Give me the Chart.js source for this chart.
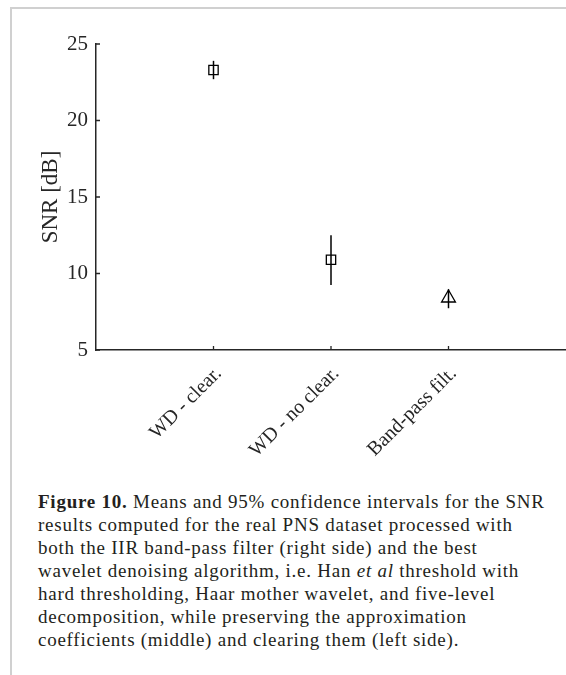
<!DOCTYPE html>
<html>
<head>
<meta charset="utf-8">
<script src="https://cdn.jsdelivr.net/npm/chart.js@4.4.1/dist/chart.umd.min.js"></script>
<style>
  html, body { margin: 0; padding: 0; background: #fff; }
  body { width: 566px; height: 675px; position: relative; overflow: hidden; }
  .frame {
    position: absolute; left: 10px; top: 7px; width: 700px; height: 700px;
    border-left: 2px solid #d0d0d0; border-top: 2px solid #d0d0d0;
  }
  .plot { position: absolute; left: 0; top: 0; width: 566px; height: 470px; }
  .caption {
    position: absolute; left: 38px; top: 490px;
    font-family: "Liberation Serif", Tinos, "Times New Roman", Times, "Noto Serif", "DejaVu Serif", serif;
    font-size: 19px; line-height: 23px; letter-spacing: 0.75px;
    color: #231f20; white-space: nowrap;
  }
</style>
</head>
<body>
<div class="frame"></div>
<div class="plot"><canvas id="snrChart"></canvas></div>
<div class="caption">
  <b>Figure 10.</b> Means and 95% confidence intervals for the SNR<br>
  results computed for the real PNS dataset processed with<br>
  both the IIR band-pass filter (right side) and the best<br>
  wavelet denoising algorithm, i.e. Han <i>et al</i> threshold with<br>
  hard thresholding, Haar mother wavelet, and five-level<br>
  decomposition, while preserving the approximation<br>
  coefficients (middle) and clearing them (left side).
</div>
<script>
// --- data ---
const categories = ["WD - clear.", "WD - no clear.", "Band-pass filt."];
const means = [23.3, 10.9, 8.4];
const ciLow = [22.7, 9.25, 7.73];
const ciHigh = [23.9, 12.5, 8.97];
const markerStyles = ["rect", "rect", "triangle"];
const markerSizes = [6.6, 6.6, 8];
const yTicks = [5, 10, 15, 20, 25];

const AXIS = "#262626";
const FONT = "'Liberation Serif', Tinos, 'Times New Roman', Times, 'Noto Serif', 'DejaVu Serif', serif";

// MATLAB-style ticks pointing into the plot
const inwardTicks = {
  id: "inwardTicks",
  afterDraw(chart) {
    const { ctx, chartArea, scales } = chart;
    ctx.save();
    ctx.strokeStyle = AXIS;
    ctx.lineWidth = 1.3;
    ctx.beginPath();
    scales.y.ticks.forEach((t) => {
      const py = scales.y.getPixelForValue(t.value);
      ctx.moveTo(chartArea.left, py);
      ctx.lineTo(chartArea.left + 4, py);
    });
    scales.x.ticks.forEach((t) => {
      if (!categories[t.value - 1]) return;
      const px = scales.x.getPixelForValue(t.value);
      ctx.moveTo(px, chartArea.bottom);
      ctx.lineTo(px, chartArea.bottom - 4);
    });
    ctx.stroke();
    ctx.restore();
  },
};

const errorBars = categories.map((c, i) => ({
  label: c + " CI",
  data: [
    { x: i + 1, y: ciLow[i] },
    { x: i + 1, y: ciHigh[i] },
  ],
  showLine: true,
  borderColor: "#000",
  borderWidth: 1.5,
  pointRadius: 0,
}));

const markers = {
  label: "mean",
  data: means.map((m, i) => ({ x: i + 1, y: m })),
  pointStyle: markerStyles,
  pointRadius: markerSizes,
  borderColor: "#000",
  borderWidth: 1.3,
  backgroundColor: "rgba(0,0,0,0)",
};

new Chart(document.getElementById("snrChart"), {
  type: "scatter",
  data: { datasets: [markers, ...errorBars] },
  plugins: [inwardTicks],
  options: {
    animation: false,
    responsive: true,
    maintainAspectRatio: false,
    layout: { autoPadding: false, padding: { top: 44, left: 0, right: 0, bottom: 0 } },
    plugins: { legend: { display: false }, tooltip: { enabled: false } },
    scales: {
      x: {
        type: "linear",
        min: 0,
        max: 4,
        afterFit: (s) => {
          s.height = 120;
          s.paddingLeft = 0;
          s.paddingRight = 0;
        },
        afterBuildTicks: (s) => { s.ticks = [0, 1, 2, 3, 4].map((v) => ({ value: v })); },
        grid: { display: false, drawTicks: false },
        border: { display: true, color: AXIS, width: 1.5 },
        ticks: {
          autoSkip: false,
          maxRotation: 45,
          minRotation: 45,
          padding: 12,
          labelOffset: 5,
          color: AXIS,
          font: { family: FONT, size: 20 },
          callback: (v) => categories[v - 1] ?? "",
        },
      },
      y: {
        min: 5,
        max: 25,
        afterFit: (s) => { s.width = 96; },
        afterBuildTicks: (s) => { s.ticks = yTicks.map((v) => ({ value: v })); },
        grid: { display: false, drawTicks: false },
        border: { display: true, color: AXIS, width: 1.5 },
        ticks: { padding: 8, color: AXIS, font: { family: FONT, size: 21 } },
        title: {
          display: true,
          text: "SNR [dB]",
          color: AXIS,
          padding: { top: 37, bottom: 0 },
          font: { family: FONT, size: 23 },
        },
      },
    },
  },
});
</script>
</body>
</html>
